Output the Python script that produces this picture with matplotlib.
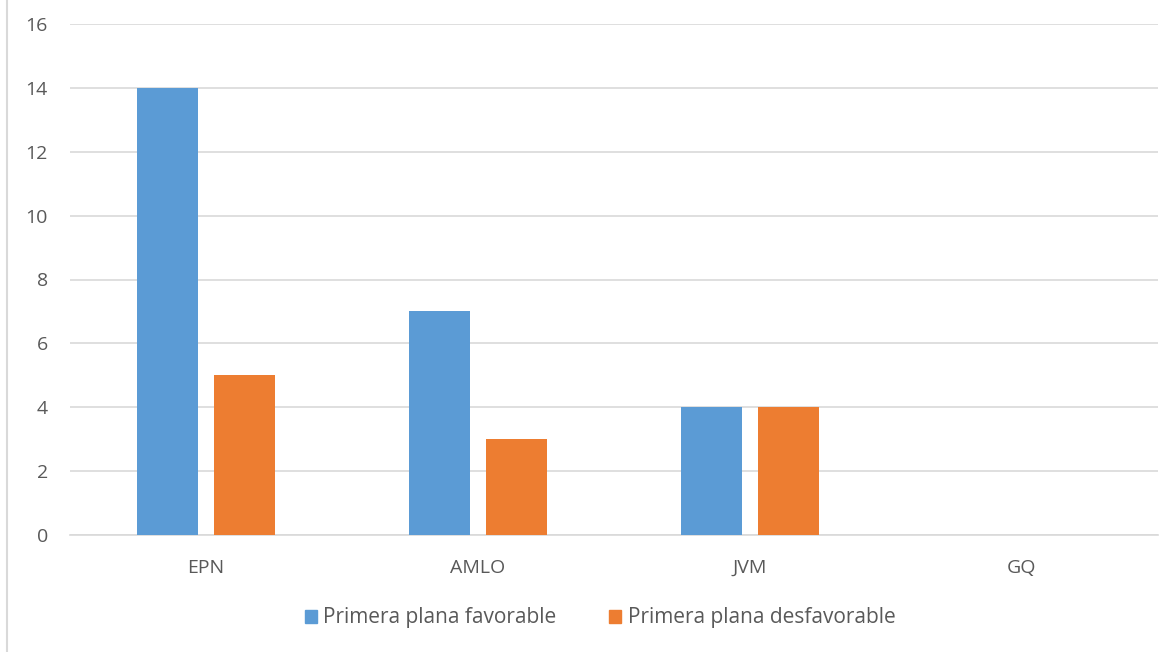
import numpy as np
import matplotlib.pyplot as plt
from matplotlib.patches import Patch

categories = ["EPN", "AMLO", "JVM", "GQ"]
favorable = [14, 7, 4, 0]
desfavorable = [5, 3, 4, 0]
series_names = ["Primera plana favorable", "Primera plana desfavorable"]

blue = "#5b9bd5"
orange = "#ed7d31"
text_gray = "#595959"
grid_gray = "#d9d9d9"

plt.rcParams['font.family'] = ['Open Sans', 'DejaVu Sans']

fig = plt.figure(figsize=(11.72, 6.52), dpi=100)
ax = fig.add_axes([70 / 1172, 117 / 652, 1088 / 1172, 511 / 652])

x = np.arange(len(categories))
w = 0.224
ax.bar(x - 0.143, favorable, w, color=blue, zorder=3)
ax.bar(x + 0.143, desfavorable, w, color=orange, zorder=3)

ax.set_xlim(-0.5, len(categories) - 0.5)
ax.set_ylim(0, 16)
ax.set_yticks(range(0, 17, 2))
ax.set_xticks(x)
ax.set_xticklabels(categories)
ax.yaxis.grid(True, color=grid_gray, linewidth=1.2, zorder=0)
for s in ["top", "right", "left"]:
    ax.spines[s].set_visible(False)
ax.spines["bottom"].set_color(grid_gray)
ax.spines["bottom"].set_linewidth(1.2)
ax.tick_params(axis="both", length=0, colors=text_gray, labelsize=14)
ax.tick_params(axis="y", pad=16)
ax.tick_params(axis="x", pad=17)

handles = [Patch(color=blue), Patch(color=orange)]
fig.legend(handles, series_names, loc="center", bbox_to_anchor=(600 / 1172, 1 - 618 / 652),
           ncol=2, frameon=False, fontsize=15, labelcolor=text_gray,
           handlelength=0.6, handleheight=0.6, handletextpad=0.3, columnspacing=2.5)

# outer chart border (left side visible)
fig.add_artist(plt.Line2D([7 / 1172, 7 / 1172], [0, 1], color=grid_gray, linewidth=1.5))

fig.savefig("out.png", dpi=100)
